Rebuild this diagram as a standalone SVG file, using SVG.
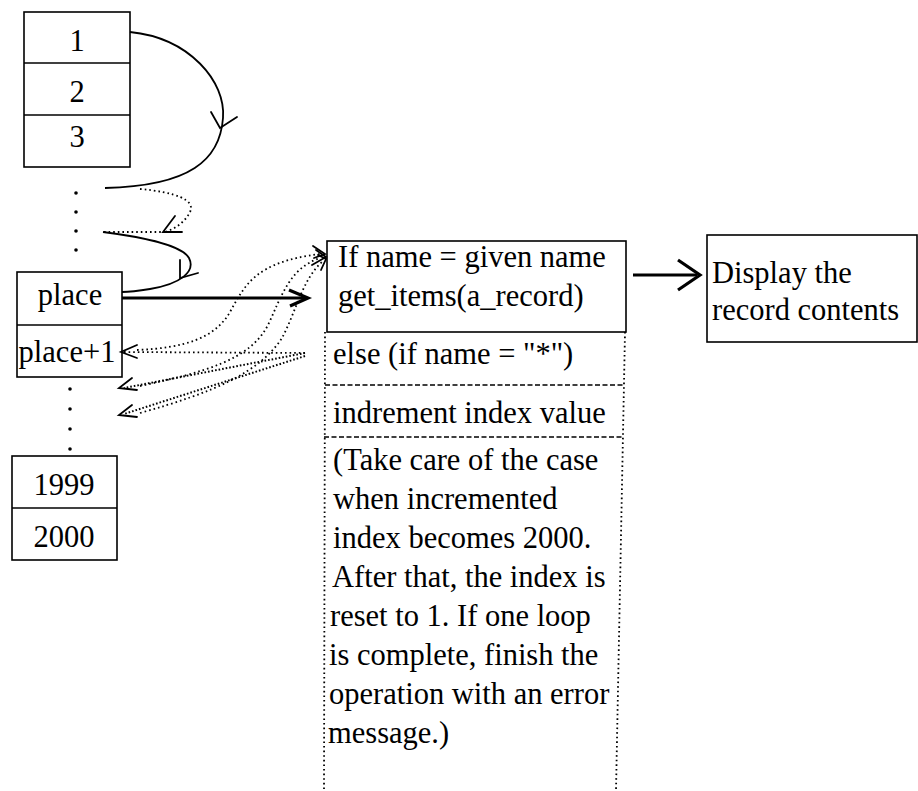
<svg xmlns="http://www.w3.org/2000/svg" width="918" height="791" viewBox="0 0 918 791">
  <style>
    .box { fill: none; stroke: #000; stroke-width: 1.6; }
    .txt { font-family: "Liberation Serif", "Times New Roman", serif; font-size: 30.5px; fill: #000; }
    .mid { text-anchor: middle; }
    .solid { fill: none; stroke: #000; stroke-width: 1.8; }
    .thick { fill: none; stroke: #000; stroke-width: 3.2; }
    .dot { fill: none; stroke: #000; stroke-width: 1.8; stroke-dasharray: 1.6 3; }
    .dense { fill: none; stroke: #000; stroke-width: 2; stroke-dasharray: 1.6 2; }
    .sep { fill: none; stroke: #000; stroke-width: 1.4; stroke-dasharray: 5 2.5; }
    .head { fill: none; stroke: #000; stroke-width: 1.8; stroke-linecap: round; stroke-linejoin: miter; }
    .headthick { fill: none; stroke: #000; stroke-width: 3.2; stroke-linejoin: miter; }
    .ell { fill: #000; }
  </style>

  <!-- first slots of the table -->
  <g id="slots-top">
    <rect class="box" x="24" y="12" width="106" height="155"/>
    <line class="box" x1="24" y1="63" x2="130" y2="63"/>
    <line class="box" x1="24" y1="115" x2="130" y2="115"/>
    <text class="txt mid" x="77" y="51">1</text>
    <text class="txt mid" x="77" y="102">2</text>
    <text class="txt mid" x="77" y="147">3</text>
  </g>

  <!-- ellipsis between slot 3 and place -->
  <g id="ellipsis-1">
    <circle class="ell" cx="76" cy="193" r="1.8"/>
    <circle class="ell" cx="76" cy="212" r="1.8"/>
    <circle class="ell" cx="76" cy="231" r="1.8"/>
    <circle class="ell" cx="76" cy="250" r="1.8"/>
  </g>

  <!-- place / place+1 slots -->
  <g id="slots-place">
    <rect class="box" x="17" y="272" width="105" height="105"/>
    <line class="box" x1="17" y1="325" x2="122" y2="325"/>
    <text class="txt mid" x="70" y="305">place</text>
    <text class="txt mid" x="67" y="362">place+1</text>
  </g>

  <!-- ellipsis between place+1 and 1999 -->
  <g id="ellipsis-2">
    <circle class="ell" cx="70" cy="389" r="1.8"/>
    <circle class="ell" cx="70" cy="409" r="1.8"/>
    <circle class="ell" cx="70" cy="429" r="1.8"/>
    <circle class="ell" cx="70" cy="449" r="1.8"/>
  </g>

  <!-- last slots of the table -->
  <g id="slots-bottom">
    <rect class="box" x="12" y="456" width="105" height="104"/>
    <line class="box" x1="12" y1="508" x2="117" y2="508"/>
    <text class="txt mid" x="64" y="495">1999</text>
    <text class="txt mid" x="64" y="547">2000</text>
  </g>

  <!-- search step box -->
  <g id="search-box">
    <rect class="box" x="327" y="241" width="299" height="91"/>
    <text class="txt" x="338" y="267">If name = given name</text>
    <text class="txt" x="338" y="306">get_items(a_record)</text>
    <line class="dot" x1="325" y1="332" x2="324" y2="791"/>
    <line class="dot" x1="625" y1="332" x2="616" y2="791"/>
    <line class="sep" x1="325" y1="385" x2="625" y2="385"/>
    <line class="sep" x1="324" y1="437" x2="623" y2="437"/>
    <text class="txt" x="333" y="364">else (if name = "*")</text>
    <text class="txt" x="333" y="423">indrement index value</text>
    <text class="txt" x="333" y="470">(Take care of the case</text>
    <text class="txt" x="333" y="509">when incremented</text>
    <text class="txt" x="333" y="548">index becomes 2000.</text>
    <text class="txt" x="332" y="587">After that, the index is</text>
    <text class="txt" x="330" y="626">reset to 1. If one loop</text>
    <text class="txt" x="329" y="665">is complete, finish the</text>
    <text class="txt" x="329" y="704">operation with an error</text>
    <text class="txt" x="328" y="743">message.)</text>
  </g>

  <!-- output box -->
  <g id="display-box">
    <rect class="box" x="707" y="235" width="210" height="107"/>
    <text class="txt" x="712" y="283">Display the</text>
    <text class="txt" x="712" y="320">record contents</text>
  </g>

  <g id="connectors">
    <!-- slot 1 to slot 3 hop -->
    <path class="solid" d="M130,32 C190,38 226,82 223,118 C220,160 190,186 105,188"/>
    <polyline class="head" points="211,112 220,128 237,117"/>
    <!-- dotted hop through the ellipsis -->
    <path class="dot" d="M140,189 C175,192 196,200 190,212 C185,222 175,229 165,232"/>
    <line class="dot" x1="104" y1="232" x2="162" y2="232"/>
    <polyline class="head" points="175,216 163,232 182,232"/>
    <!-- hop into place -->
    <path class="solid" d="M103,232 C150,238 182,246 189,258 C196,272 180,284 150,289 C138,291 128,292 122,292"/>
    <polyline class="head" points="180,260 180,278 198,273"/>

    <!-- place to search box -->
    <line class="thick" x1="122" y1="298" x2="306" y2="298"/>
    <polyline class="headthick" points="289,290 308,298 290,306"/>

    <!-- search box to display box -->
    <line class="thick" x1="633" y1="275" x2="697" y2="275"/>
    <polyline class="headthick" points="678,260 700,275 678,290"/>

    <!-- retries: else branch back to following slots -->
    <line class="dot" x1="305" y1="353" x2="124" y2="352"/>
    <polyline class="head" points="137,345 121,352 137,358"/>
    <line class="dense" x1="305" y1="353" x2="124" y2="388"/>
    <polyline class="head" points="132,378 119,388 137,390"/>
    <line class="dense" x1="305" y1="356" x2="124" y2="414"/>
    <polyline class="head" points="132,405 119,415 137,417"/>

    <!-- retries: following slots back up to the test -->
    <path class="dot" d="M137,350 C185,348 215,338 230,312 C245,285 255,262 320,254"/>
    <path class="dot" d="M140,386 C205,372 250,360 268,325 C282,295 290,268 320,258"/>
    <path class="dot" d="M140,413 C215,392 260,372 282,338 C296,312 302,280 322,262"/>
    <polyline class="head" points="313,246 325,254 314,258"/>
    <polyline class="head" points="316,250 326,257 312,265"/>
    <polyline class="head" points="318,255 326,259 321,270"/>
  </g>
</svg>
